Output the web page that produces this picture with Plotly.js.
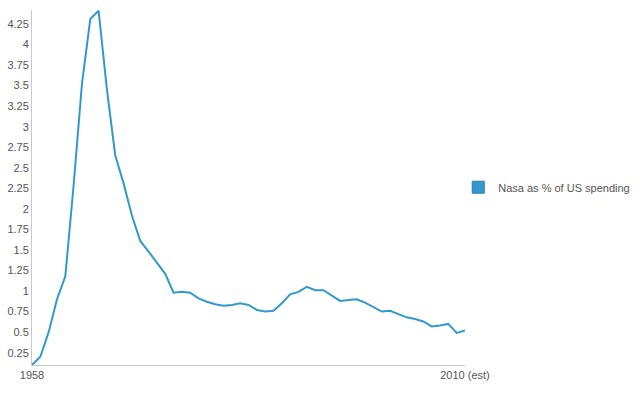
<!DOCTYPE html>
<html>
<head>
<meta charset="utf-8">
<script src="https://cdn.plot.ly/plotly-3.0.1.min.js"></script>
<style>html,body{margin:0;padding:0;background:#fff;}#chart{width:640px;height:407px;}</style>
</head>
<body>
<div id="chart"></div>
<script>
const years = [1958,1959,1960,1961,1962,1963,1964,1965,1966,1967,1968,1969,1970,1971,1972,1973,1974,1975,1976,1977,1978,1979,1980,1981,1982,1983,1984,1985,1986,1987,1988,1989,1990,1991,1992,1993,1994,1995,1996,1997,1998,1999,2000,2001,2002,2003,2004,2005,2006,2007,2008,2009,2010];
const nasaPct = [0.10,0.20,0.50,0.90,1.18,2.29,3.52,4.31,4.41,3.45,2.65,2.31,1.92,1.61,1.48,1.35,1.21,0.98,0.99,0.98,0.91,0.87,0.84,0.82,0.83,0.85,0.83,0.77,0.75,0.76,0.85,0.96,0.99,1.05,1.01,1.01,0.94,0.88,0.89,0.90,0.86,0.80,0.75,0.76,0.72,0.68,0.66,0.63,0.57,0.58,0.60,0.49,0.52];
const tickYears = [1958, 2010];
const tickLabels = ['1958', '2010 (est)'];
const seriesName = 'Nasa as % of US spending';
const color = '#3399cc';

const traces = [
  {type:'scatter', mode:'lines', x:years, y:nasaPct, name:seriesName,
   line:{color:color, width:2}, showlegend:false, hoverinfo:'x+y'},
  {type:'bar', x:[null], y:[null], name:seriesName,
   marker:{color:color, line:{color:'#2a7fb0', width:1}}, showlegend:true, hoverinfo:'skip'}
];

const layout = {
  width:640, height:407,
  margin:{l:32, r:175, t:10, b:42, autoexpand:false},
  paper_bgcolor:'#fff', plot_bgcolor:'#fff',
  font:{family:'"Liberation Sans", Arial, sans-serif', size:11, color:'#444'},
  xaxis:{type:'linear', range:[1958, 2010], tickvals:tickYears, ticktext:tickLabels,
         showgrid:false, zeroline:false, showline:true, linecolor:'#c8c8c8', linewidth:1,
         ticks:'', tickfont:{size:11, color:'#555'}},
  yaxis:{range:[0.1, 4.42], tickvals:[0.25,0.5,0.75,1,1.25,1.5,1.75,2,2.25,2.5,2.75,3,3.25,3.5,3.75,4,4.25],
         ticktext:['0.25','0.5','0.75','1','1.25','1.5','1.75','2','2.25','2.5','2.75','3','3.25','3.5','3.75','4','4.25'],
         showgrid:false, zeroline:false, showline:true, linecolor:'#c8c8c8', linewidth:1,
         ticks:'', tickfont:{size:11, color:'#555'}},
  legend:{xref:'container', yref:'container', x:0.716, xanchor:'left', y:0.54, yanchor:'middle',
          font:{size:11, color:'#555'}, bgcolor:'rgba(0,0,0,0)'},
  showlegend:true
};

Plotly.newPlot('chart', traces, layout, {displayModeBar:false, staticPlot:true});
</script>
</body>
</html>
